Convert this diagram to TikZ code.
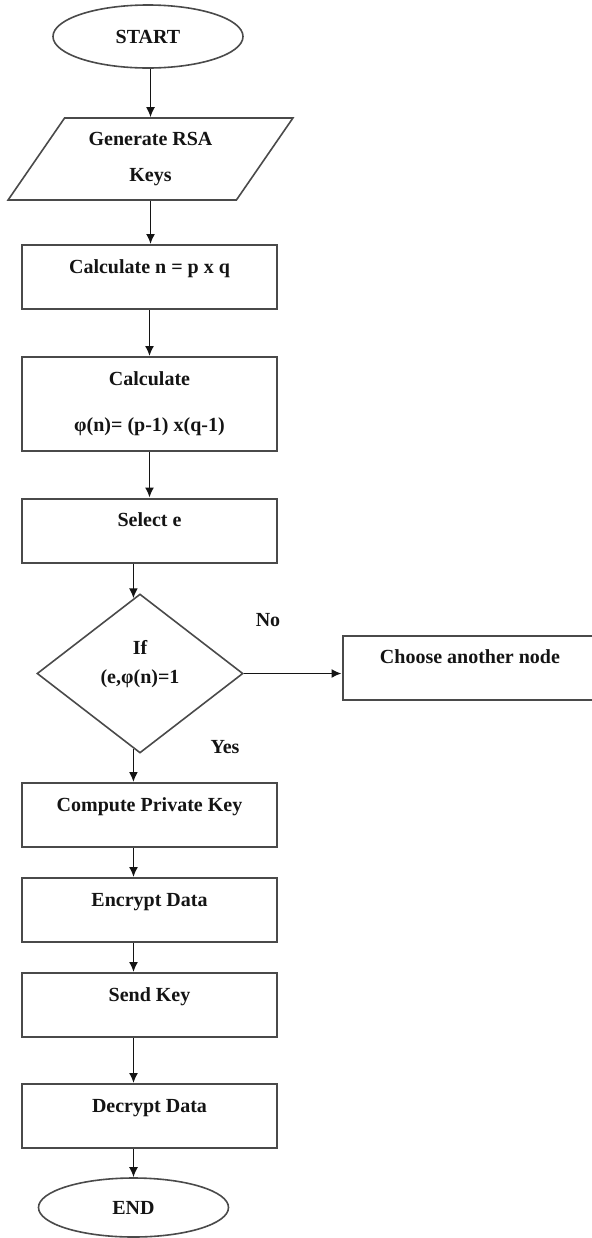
\documentclass[tikz,border=0pt]{standalone}
\usepackage{fontspec}
\setmainfont{Liberation Serif}
\usetikzlibrary{arrows.meta,shapes.geometric}
\definecolor{ink}{HTML}{141414}
\definecolor{rim}{HTML}{4A4A4A}

\tikzset{
  boxline/.style={draw=rim,line width=1pt,minimum width=127.5pt,inner sep=2pt},
  stepbox/.style={boxline,minimum height=32pt,text height=7pt,text depth=11pt},
  term/.style={ellipse,draw=rim,line width=.8pt,minimum width=95pt,inner sep=1pt},
  flow/.style={draw=ink,line width=.8pt,->},
}

\begin{document}
\begin{tikzpicture}[x=.5pt,y=-.5pt,font=\bfseries,text=ink,>={Latex[length=5pt,width=4.5pt]}]
  \path[use as bounding box] (0,0) rectangle (592,1238);
  \clip (0,0) rectangle (592,1238);

  \node[term,minimum height=31.5pt] (start) at (148,36.5) {START};
  \node[trapezium,trapezium left angle=56,trapezium right angle=124,
    trapezium stretches=true,draw=rim,line width=.8pt,
    minimum width=142.5pt,minimum height=41pt,align=center] (gen) at (150.5,159)
    {Generate RSA\\[6pt]Keys};
  \node[stepbox] (calcn) at (149.5,277) {Calculate n = p x q};
  \node[boxline,minimum height=47pt,align=center] (calcphi) at (149.5,404)
    {Calculate\\[11pt]φ(n)= (p-1) x(q-1)};
  \node[stepbox] (sel) at (149.5,530.5) {Select e};

  \node[diamond,aspect=1.3,draw=rim,line width=.8pt,minimum width=103pt,
    minimum height=79.5pt,inner sep=0pt,align=center,text depth=12pt] (cond) at (140,673.5)
    {If\\[2.5pt](e,φ(n)=1};
  \node[stepbox] (other) at (470,667.5) {Choose another node};
  \node (no) at (268,620) {No};
  \node (yes) at (225,747) {Yes};

  \node[stepbox] (priv) at (149.5,815) {Compute Private Key};
  \node[stepbox] (enc) at (149.5,910) {Encrypt Data};
  \node[stepbox] (send) at (149.5,1005) {Send Key};
  \node[stepbox] (dec) at (149.5,1116) {Decrypt Data};
  \node[term,minimum height=29.5pt] (stop) at (133.5,1207.5) {END};

  \coordinate (spine) at (133.5,0);
  \draw[flow] (gen.north |- start.south) -- (gen.north);
  \draw[flow] (gen.south) -- (gen.south |- calcn.north);
  \draw[flow] (calcn) -- (calcphi);
  \draw[flow] (calcphi) -- (sel);
  \draw[flow] (sel.south -| cond.95) -- (cond.95);
  \draw[flow] (cond.east) -- (cond.east -| other.west);
  \draw[flow] (cond.-95) -- (cond.-95 |- priv.north);
  \draw[flow] (priv.south -| spine) -- (enc.north -| spine);
  \draw[flow] (enc.south -| spine) -- (send.north -| spine);
  \draw[flow] (send.south -| spine) -- (dec.north -| spine);
  \draw[flow] (dec.south -| stop.north) -- (stop.north);
\end{tikzpicture}
\end{document}
